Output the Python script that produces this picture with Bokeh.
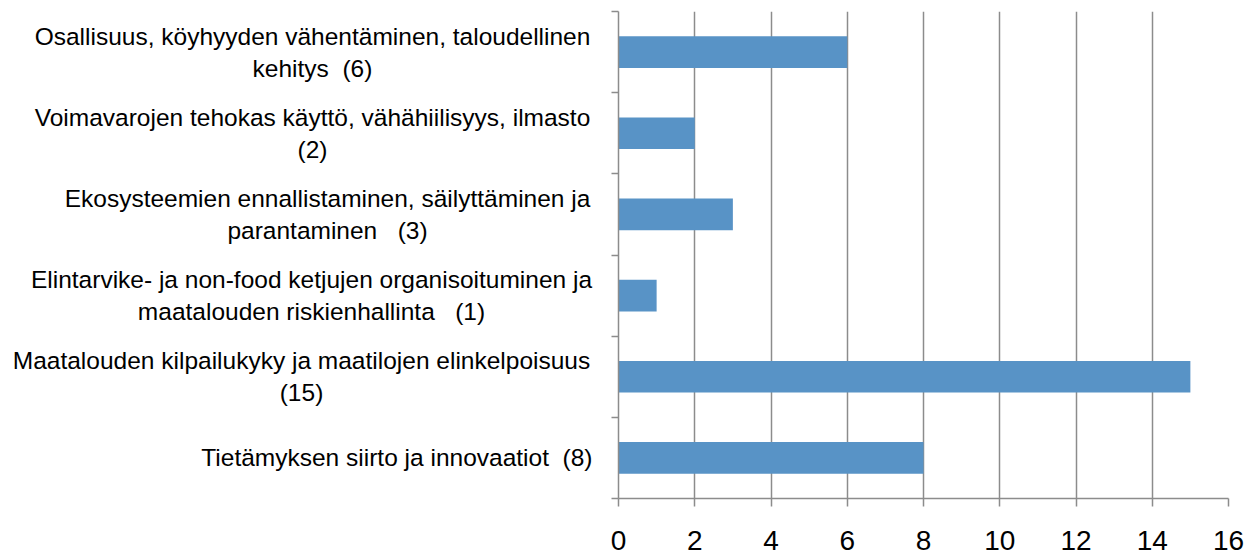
from bokeh.plotting import figure
from bokeh.models import Range1d, FixedTicker
from bokeh.layouts import row
from bokeh.core.properties import value
from bokeh.embed import file_html
from bokeh.resources import INLINE

NB = "\u00a0"
# categories from top to bottom, each as label lines
label_lines = [
    ["Osallisuus, köyhyyden vähentäminen, taloudellinen", "kehitys " + NB + "(6)"],
    ["Voimavarojen tehokas käyttö, vähähiilisyys, ilmasto", "(2)"],
    ["Ekosysteemien ennallistaminen, säilyttäminen ja", "parantaminen " + NB + NB + "(3)"],
    ["Elintarvike- ja non-food ketjujen organisoituminen ja", "maatalouden riskienhallinta " + NB + NB + "(1)"],
    ["Maatalouden kilpailukyky ja maatilojen elinkelpoisuus", "(15)"],
    ["Tietämyksen siirto ja innovaatiot " + NB + "(8)"],
]
values = [6, 2, 3, 1, 15, 8]
x_ticks = [0, 2, 4, 6, 8, 10, 12, 14, 16]

n = len(values)
ypos = [n - i - 0.5 for i in range(n)]

FONT = "Liberation Sans"
H = 556
LW = 598          # width of label panel
RW = 1254 - LW    # width of chart panel
TOP, BOTTOM = 11, 58
GRID = "#8c8c8c"

yr = Range1d(0, n)

# ---- chart panel ----
p = figure(width=RW, height=H, output_backend="svg", toolbar_location=None,
           x_range=Range1d(0, 16), y_range=yr,
           min_border_left=20, min_border_right=26, min_border_top=TOP,
           min_border_bottom=BOTTOM)
p.outline_line_color = None

p.hbar(y=ypos, right=values, left=0, height=0.39, fill_color="#5893c6",
       line_color=None)

p.xaxis.ticker = FixedTicker(ticks=x_ticks)
p.xaxis.axis_line_color = GRID
p.xaxis.axis_line_width = 1.5
p.xaxis.major_tick_line_color = GRID
p.xaxis.major_tick_line_width = 1.5
p.xaxis.major_tick_out = 8
p.xaxis.major_tick_in = 0
p.xaxis.minor_tick_line_color = None
p.xaxis.major_label_text_font = FONT
p.xaxis.major_label_text_font_size = "28px"
p.xaxis.major_label_text_color = "#000000"
p.xaxis.major_label_text_line_height = 0.9
p.xaxis.major_label_standoff = 24

p.yaxis.ticker = FixedTicker(ticks=list(range(n + 1)))
p.yaxis.axis_line_color = GRID
p.yaxis.axis_line_width = 1.5
p.yaxis.major_tick_line_color = GRID
p.yaxis.major_tick_line_width = 1.5
p.yaxis.major_tick_out = 7
p.yaxis.major_tick_in = 0
p.yaxis.minor_tick_line_color = None
p.yaxis.major_label_text_font_size = "0px"
p.yaxis.major_label_text_color = None
p.yaxis.major_label_standoff = 0

p.xgrid.grid_line_color = GRID
p.xgrid.grid_line_width = 1.5
p.ygrid.grid_line_color = None

# ---- label panel (x in pixels) ----
q = figure(width=LW, height=H, output_backend="svg", toolbar_location=None,
           x_range=Range1d(0, LW), y_range=yr,
           min_border_left=0, min_border_right=0, min_border_top=TOP,
           min_border_bottom=BOTTOM)
q.axis.visible = False
q.grid.grid_line_color = None
q.outline_line_color = None

RIGHT = 592
centers = [312, 312, 327, 311, 301, None]
FS = value("24.5px")
for i, lines in enumerate(label_lines):
    if len(lines) == 1:
        q.text(x=[RIGHT], y=[ypos[i]], text=[lines[0]], text_align="right",
               text_baseline="middle", text_font=value(FONT), text_font_size=FS,
               text_color="#000000")
    else:
        offs = [-16, 16]
        for j, t in enumerate(lines):
            q.text(x=[centers[i]], y=[ypos[i]], y_offset=offs[j], text=[t],
                   text_align="center", text_baseline="middle",
                   text_font=value(FONT), text_font_size=FS, text_color="#000000")

layout = row(q, p, spacing=0)
open("out.html", "w").write(file_html(layout, INLINE))
